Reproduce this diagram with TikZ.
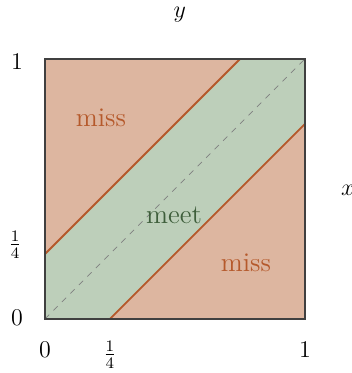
\documentclass[tikz,border=0pt]{standalone}
\begin{document}
\definecolor{missfill}{HTML}{DDB6A0}
\definecolor{meetfill}{HTML}{BDCFBA}
\definecolor{edgeor}{HTML}{B5592B}
\definecolor{meettext}{HTML}{3E5E3B}
\definecolor{misstext}{HTML}{B5592B}
\definecolor{frame}{HTML}{404040}
\begin{tikzpicture}[x=130pt,y=130pt,
  lbl/.style={font=\fontsize{12}{14}\selectfont, inner sep=0pt},
  region/.style={font=\fontsize{13.5}{15}\selectfont, inner sep=0pt},
  bound/.style={draw=edgeor, line width=0.95pt},
  diag/.style={draw=gray, dashed, line width=0.35pt, dash pattern=on 3pt off 3pt}]
\useasboundingbox (-0.173,-0.208) rectangle (1.181,1.227);
\coordinate (O) at (0,0);
\coordinate (A) at (1,0);
\coordinate (B) at (1,1);
\coordinate (C) at (0,1);
\coordinate (L1) at (0,0.25);
\coordinate (L2) at (0.75,1);
\coordinate (R1) at (0.25,0);
\coordinate (R2) at (1,0.75);
\fill[missfill] (O) -- (A) -- (B) -- (C) -- cycle;
\fill[meetfill] (O) -- (R1) -- (R2) -- (B) -- (L2) -- (L1) -- cycle;
\draw[diag] (O) -- (B);
\draw[bound] (L1) -- (L2);
\draw[bound] (R1) -- (R2);
\draw[draw=frame, line width=0.9pt] (O) -- (A) -- (B) -- (C) -- cycle;
\node[region, text=misstext] (miss1) at (0.215,0.773) {miss};
\node[region, text=meettext] (meet) at (0.496,0.40) {meet};
\node[region, text=misstext] (miss2) at (0.773,0.215) {miss};
\node[lbl] (ylab) at (0.519,1.169) {$y$};
\node[lbl] (xlab) at (1.165,0.496) {$x$};
\node[lbl] (y1) at (-0.108,0.988) {$1$};
\node[lbl] (yq) at (-0.115,0.285) {$\frac14$};
\node[lbl] (y0) at (-0.108,0.004) {$0$};
\node[lbl] (x0) at (0,-0.119) {$0$};
\node[lbl] (xq) at (0.25,-0.138) {$\frac14$};
\node[lbl] (x1) at (1,-0.119) {$1$};
\end{tikzpicture}
\end{document}
